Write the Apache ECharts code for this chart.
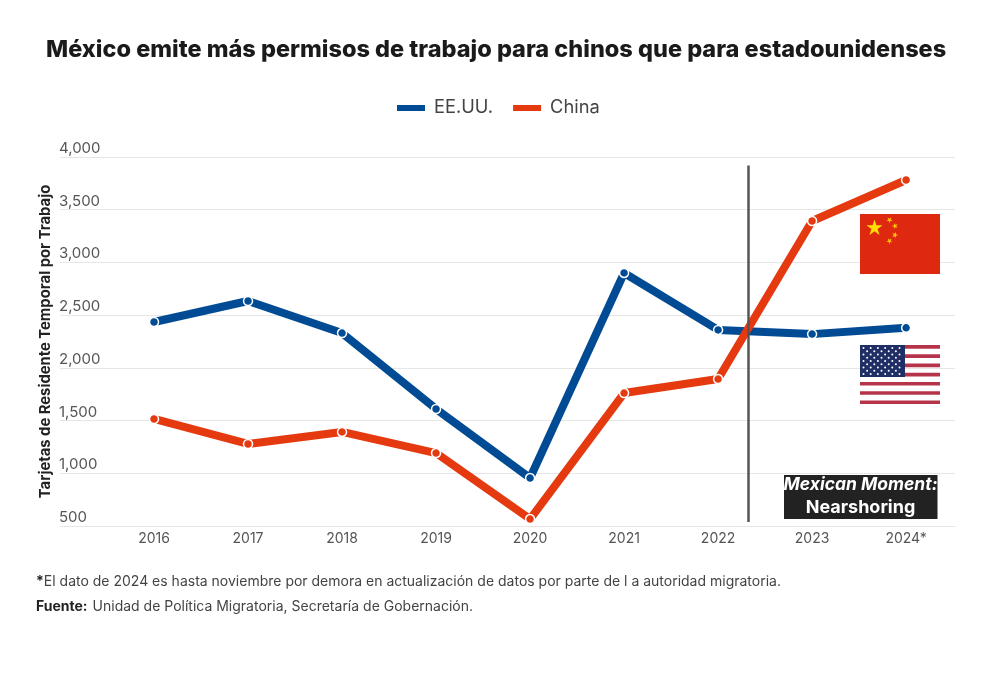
<!DOCTYPE html>
<html><head><meta charset="utf-8">
<script src="https://cdn.jsdelivr.net/npm/echarts@6/dist/echarts.min.js"></script>
<style>html,body{margin:0;padding:0;background:#fff}#c{width:1000px;height:687px}</style>
</head><body><div id="c"></div>
<script>
const years = [2016,2017,2018,2019,2020,2021,2022,2023,2024];
const usValues = [2435,2634,2330,1610,955,2900,2360,2320,2380];
const chinaValues = [1515,1278,1392,1192,566,1761,1894,3393,3782];
const dividerYear = 2022.32;
const FONT = 'Inter, "Liberation Sans", sans-serif';
const BLUE = '#004B93', RED = '#E5390F';
const chart = echarts.init(document.getElementById('c'), null, {renderer:'canvas'});

function star(cx, cy, r, rot, fill){
  const pts=[];
  for(let i=0;i<10;i++){
    const a=rot-Math.PI/2+i*Math.PI/5, q=i%2?r*0.382:r;
    pts.push([cx+q*Math.cos(a),cy+q*Math.sin(a)]);
  }
  return {type:'polygon',shape:{points:pts},style:{fill},z:20};
}
function rect(x,y,w,h,fill){return {type:'rect',shape:{x,y,width:w,height:h},style:{fill},z:20};}
const flags=[];
// China flag
flags.push(rect(860,214,80,60,'#DE2910'));
flags.push(star(874.5,228,8.5,0,'#FFDE00'));
[[889.5,220,0.6],[895,226,1],[895,235,0.3],[889.5,241,0.7]].forEach(s=>flags.push(star(s[0],s[1],3.2,s[2],'#FFC400')));
// US flag
for(let i=0;i<13;i++){ if(i%2===0) flags.push(rect(860,345+i*60/13,80,60/13*0.8,'#B5344A')); }
flags.push(rect(860,345,45,32,'#1F2F66'));
for(let r=0;r<9;r++){
  const n=r%2?5:6;
  for(let k=0;k<n;k++){
    flags.push({type:'circle',shape:{cx:863.5+(r%2?3.6:0)+k*7.2,cy:348+r*3.25,r:1},style:{fill:'#fff'},z:21});
  }
}

const richNote={
  b:{fontFamily:FONT,fontSize:14,fontWeight:700,color:'#222',letterSpacing:-0.24},
  n:{fontFamily:FONT,fontSize:14,fontWeight:400,color:'#444',letterSpacing:-0.24}
};
const option={
  backgroundColor:'#fff',
  animation:false,
  textStyle:{fontFamily:FONT},
  title:[
    {text:'México emite más permisos de trabajo para chinos que para estadounidenses',
     left:46,top:33,padding:[5,0],
     textStyle:{fontFamily:FONT,fontSize:23.5,fontWeight:800,color:'#1a1a1a'}},
    {text:'{b|*}{n|El dato de 2024 es hasta noviembre por demora en actualización de datos por parte de l a autoridad migratoria.}',
     left:36,top:575,padding:0,textStyle:{fontWeight:400,rich:richNote}},
    {text:'{b|Fuente:} {n|Unidad de Política Migratoria, Secretaría de Gobernación.}',
     left:36,top:598,padding:0,textStyle:{fontWeight:400,rich:richNote}}
  ],
  legend:{
    top:99,left:397,padding:0,itemWidth:28,itemHeight:6,itemGap:20,icon:'rect',
    textStyle:{fontFamily:FONT,fontSize:18.3,color:'#444',padding:[0,0,0,4]},
    itemStyle:{borderWidth:0},
    data:['EE.UU.','China']
  },
  grid:{left:60,right:45,top:157,bottom:161,containLabel:false},
  xAxis:{
    type:'value',min:2015,max:2024.52,interval:1,
    axisLine:{show:true,lineStyle:{color:'#e6e6e6'}},
    axisTick:{show:false},splitLine:{show:false},
    axisLabel:{
      margin:6,color:'#555',fontSize:14,fontFamily:FONT,
      showMinLabel:false,showMaxLabel:false,hideOverlap:false,
      formatter:v=>v===2024?'2024*':(years.includes(v)?String(v):'')
    }
  },
  yAxis:{
    type:'value',min:500,max:4000,interval:500,
    name:'Tarjetas de Residente Temporal por Trabajo',
    nameLocation:'middle',nameGap:7,nameRotate:90,nameMoveOverlap:false,
    nameTextStyle:{fontFamily:FONT,fontSize:14.8,fontWeight:700,color:'#222'},
    axisLine:{show:false},axisTick:{show:false},
    splitLine:{lineStyle:{color:'#e6e6e6',width:1}},
    axisLabel:{
      inside:true,margin:-1,color:'#555',fontSize:15,fontFamily:FONT,
      verticalAlign:'bottom',lineHeight:17,
      formatter:v=>v.toLocaleString('en-US')
    }
  },
  series:[
    {name:'EE.UU.',type:'line',data:years.map((y,i)=>[y,usValues[i]]),
     lineStyle:{color:BLUE,width:8},itemStyle:{color:BLUE,borderColor:'#fff',borderWidth:1.5},
     symbol:'circle',symbolSize:9,showAllSymbol:true,z:3},
    {name:'China',type:'line',data:years.map((y,i)=>[y,chinaValues[i]]),
     lineStyle:{color:RED,width:8},itemStyle:{color:RED,borderColor:'#fff',borderWidth:1.5},
     symbol:'circle',symbolSize:9,showAllSymbol:true,z:4,
     markLine:{silent:true,symbol:'none',label:{show:false},animation:false,
       lineStyle:{color:'#555',width:2.5,type:'solid'},
       data:[[{coord:[dividerYear,3920]},{coord:[dividerYear,538]}]]}}
  ],
  graphic:{elements:[
    ...flags,
    {type:'rect',shape:{x:784,y:475,width:153.5,height:44},style:{fill:'#222'},z:20},
    {type:'text',x:860.5,y:485,z:21,style:{text:'Mexican Moment:',fill:'#fff',align:'center',verticalAlign:'middle',
      font:'italic 700 17.5px '+FONT}},
    {type:'text',x:860.5,y:508,z:21,style:{text:'Nearshoring',fill:'#fff',align:'center',verticalAlign:'middle',
      font:'700 18px '+FONT}}
  ]}
};
chart.setOption(option);
</script></body></html>
